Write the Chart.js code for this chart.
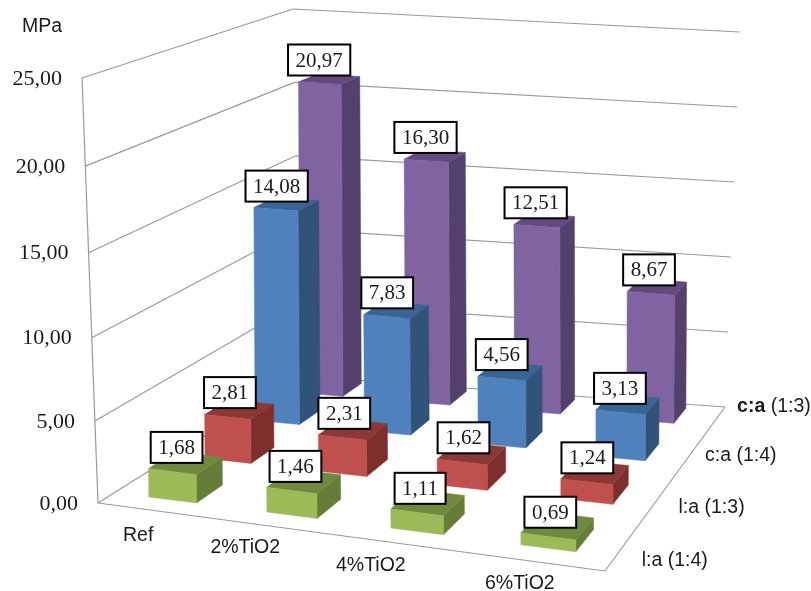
<!DOCTYPE html>
<html>
<head>
<meta charset="utf-8">
<style>
  html, body { margin: 0; padding: 0; background: #fff; }
  canvas { display: block; }
</style>
<script src="https://cdn.jsdelivr.net/npm/chart.js@4/dist/chart.umd.js"></script>
</head>
<body>
<canvas id="chart" width="811" height="591"></canvas>
<script>
// values
const categories = ["Ref", "2%TiO2", "4%TiO2", "6%TiO2"];
const seriesNames = ["l:a (1:4)", "l:a (1:3)", "c:a (1:4)", "c:a (1:3)"];
const la14 = [1.68, 1.46, 1.11, 0.69];
const la13 = [2.81, 2.31, 1.62, 1.24];
const ca14 = [14.08, 7.83, 4.56, 3.13];
const ca13 = [20.97, 16.30, 12.51, 8.67];

// front, side, top colours of each series
const shades = [
  ["#9BBB59", "#667D38", "#71893E"],
  ["#C0504D", "#7E2F2D", "#8C3836"],
  ["#4F81BD", "#31537A", "#386594"],
  ["#8064A2", "#54406C", "#64497F"]
];

// view of the 3D box: corners front-left, front-right, back-right, back-left
const floorCorners = [[98, 503], [605, 571], [725, 407], [300, 376]];
const roofCorners = [[82, 78], [613, 136], [740, 32], [293, 9]];
const barDepth = 0.46;
const barShift = 0.012;  // bars sit a little right of the slot centres
const barLean = 0.2;     // bars lean much less than the walls
const barWarp = 0.1;     // evens out the bar spacing along the front
const wallWarp = 0.047;  // gridlines get wider apart going up the front edge
const baseLift = [0, 4, 7, 5];  // tall bars stand a bit higher on the floor

function makeMap(p) {
  const [x0, y0] = p[0], [x1, y1] = p[1], [x2, y2] = p[2], [x3, y3] = p[3];
  const dx1 = x1 - x2, dx2 = x3 - x2, sx = x0 - x1 + x2 - x3;
  const dy1 = y1 - y2, dy2 = y3 - y2, sy = y0 - y1 + y2 - y3;
  const det = dx1 * dy2 - dx2 * dy1;
  const g = (sx * dy2 - dx2 * sy) / det;
  const h = (dx1 * sy - sx * dy1) / det;
  const a = x1 - x0 + g * x1, b = x3 - x0 + h * x3;
  const d = y1 - y0 + g * y1, e = y3 - y0 + h * y3;
  return (u, v) => {
    const w = g * u + h * v + 1;
    return [(a * u + b * v + x0) / w, (d * u + e * v + y0) / w];
  };
}
const floorMap = makeMap(floorCorners);
const roofMap = makeMap(roofCorners);

// u along the categories, v into the depth, t up the value axis (all 0..1)
function project(u, v, t) {
  const a = floorMap(u, v), b = roofMap(u, v);
  const k = t / (1 + wallWarp * (1 - t) * (1 - v));
  return [a[0] + (b[0] - a[0]) * k, a[1] + (b[1] - a[1]) * k];
}

function projectBar(u, v, t) {
  const w = u + barShift + barWarp * (u - 0.125) * (0.875 - u);
  const a = floorMap(w, v), b = roofMap(w, v);
  return [a[0] + (b[0] - a[0]) * t * barLean, a[1] + (b[1] - a[1]) * t];
}

function fillFace(ctx, pts, color) {
  ctx.beginPath();
  pts.forEach((p, i) => i ? ctx.lineTo(p[0], p[1]) : ctx.moveTo(p[0], p[1]));
  ctx.closePath();
  ctx.fillStyle = color;
  ctx.strokeStyle = color;
  ctx.lineWidth = 0.5;
  ctx.fill();
  ctx.stroke();
}

const fmt = v => v.toFixed(2).replace(".", ",");

class Bar3dController extends Chart.BarController {
  draw() {
    const ctx = this.chart.ctx;
    const meta = this._cachedMeta;
    const xs = meta.xScale, ys = meta.yScale;
    const depth = this.chart.scales.depth;
    const v = (depth.bottom - depth.getPixelForValue(this.index)) / depth.height;
    const dv = barDepth / categories.length / 2;
    const colors = shades[this.index];
    for (let i = meta.data.length - 1; i >= 0; i--) {
      const el = meta.data[i];
      const u0 = (el.x - el.width / 2 - xs.left) / xs.width;
      const u1 = (el.x + el.width / 2 - xs.left) / xs.width;
      const t = (ys.bottom - el.y) / ys.height;
      const v0 = v - dv, v1 = v + dv;
      const lift = baseLift[this.index] * Math.min(1, t * 4);
      const base = (uu, vv) => {
        const p = projectBar(uu, vv, 0);
        return [p[0], p[1] - lift];
      };
      fillFace(ctx, [base(u1, v0), base(u1, v1), projectBar(u1, v1, t), projectBar(u1, v0, t)], colors[1]);
      fillFace(ctx, [projectBar(u0, v0, t), projectBar(u1, v0, t), projectBar(u1, v1, t), projectBar(u0, v1, t)], colors[2]);
      fillFace(ctx, [base(u0, v0), base(u1, v0), projectBar(u1, v0, t), projectBar(u0, v0, t)], colors[0]);
    }
  }
}
Bar3dController.id = "bar3d";
Bar3dController.defaults = Chart.BarController.defaults;
Bar3dController.overrides = Chart.BarController.overrides;
Chart.register(Bar3dController);

const wallsPlugin = {
  id: "walls",
  beforeDatasetsDraw(chart) {
    const ctx = chart.ctx, ys = chart.scales.y;
    const line = (a, b) => {
      ctx.beginPath();
      ctx.moveTo(a[0], a[1]);
      ctx.lineTo(b[0], b[1]);
      ctx.stroke();
    };
    ctx.save();
    ctx.strokeStyle = "#9a9a9a";
    ctx.lineWidth = 1.2;
    ys.ticks.forEach(tick => {
      const t = (ys.bottom - ys.getPixelForValue(tick.value)) / ys.height;
      line(project(0, 0, t), project(0, 1, t));
      line(project(0, 1, t), project(1, 1, t));
    });
    line(project(0, 0, 0), project(0, 0, 1));
    line(project(0, 0, 0), project(1, 0, 0));
    line(project(1, 0, 0), project(1, 1, 0));
    ctx.restore();
  },
  afterDatasetsDraw(chart) {
    const ctx = chart.ctx, ys = chart.scales.y, xs = chart.scales.x, depth = chart.scales.depth;
    ctx.save();

    // value tick labels follow the slanted front edge
    ctx.font = '22px "Liberation Serif"';
    ctx.fillStyle = "#1a1a1a";
    ctx.textAlign = "right";
    ctx.textBaseline = "middle";
    ys.ticks.forEach(tick => {
      const t = (ys.bottom - ys.getPixelForValue(tick.value)) / ys.height;
      const p = project(0, 0, t);
      ctx.fillText(tick.label, p[0] - 20, p[1] + 1);
    });

    // category labels under the front edge
    ctx.font = '19.5px "Liberation Sans"';
    ctx.textAlign = "center";
    const catDx = [-13, -20, -20, -10];
    const catDy = [25, 22, 23, 23];
    categories.forEach((name, i) => {
      const u = (xs.getPixelForValue(i) - xs.left) / xs.width;
      const p = project(u, 0, 0);
      ctx.fillText(name, p[0] + catDx[i], p[1] + catDy[i]);
    });

    // series names beside the right floor edge
    ctx.textAlign = "left";
    const nameDx = [18, 21, 18, 24];
    const nameDy = [15, 8, -3, -17];
    seriesNames.forEach((name, j) => {
      const v = (depth.bottom - depth.getPixelForValue(j)) / depth.height;
      const p = project(1, v, 0);
      const x = p[0] + nameDx[j], y = p[1] + nameDy[j];
      if (j === 3) {
        const head = name.split(" ")[0];
        ctx.font = 'bold 19.5px "Liberation Sans"';
        ctx.fillText(head, x, y);
        const w = ctx.measureText(head).width;
        ctx.font = '19.5px "Liberation Sans"';
        ctx.fillText(name.slice(head.length), x + w, y);
      } else {
        ctx.fillText(name, x, y);
      }
    });

    ctx.fillText("MPa", 22, 27);

    // value boxes sit above each bar's top face
    ctx.font = '21px "Liberation Serif"';
    ctx.textAlign = "center";
    const dv = barDepth / categories.length / 2;
    chart.data.datasets.forEach((ds, j) => {
      const meta = chart.getDatasetMeta(j);
      const v = (depth.bottom - depth.getPixelForValue(j)) / depth.height;
      meta.data.forEach((el, i) => {
        const u = (el.x - xs.left) / xs.width;
        const t = (ys.bottom - el.y) / ys.height;
        const p = projectBar(u, v + dv * 0.3, t);
        const text = fmt(ds.data[i]);
        const w = ctx.measureText(text).width + 15;
        const x = p[0] - 13 + i, y = p[1] - 18 + (3 - j) * 1.7 + i;
        ctx.fillStyle = "#fff";
        ctx.strokeStyle = "#000";
        ctx.lineWidth = 2;
        ctx.fillRect(x - w / 2, y - 15.5, w, 31);
        ctx.strokeRect(x - w / 2, y - 15.5, w, 31);
        ctx.fillStyle = "#1a1a1a";
        ctx.fillText(text, x, y + 1);
      });
    });
    ctx.restore();
  }
};

new Chart(document.getElementById("chart"), {
  type: "bar3d",
  data: {
    labels: categories,
    datasets: [
      { label: seriesNames[0], data: la14, clip: false },
      { label: seriesNames[1], data: la13, clip: false },
      { label: seriesNames[2], data: ca14, clip: false },
      { label: seriesNames[3], data: ca13, clip: false }
    ]
  },
  options: {
    responsive: false,
    animation: false,
    grouped: false,
    categoryPercentage: 0.41,
    barPercentage: 1,
    layout: { padding: { left: 98, right: 206, top: 78, bottom: 88 } },
    plugins: { legend: { display: false }, tooltip: { enabled: false } },
    scales: {
      x: { type: "category", display: false, offset: true },
      y: {
        type: "linear",
        display: false,
        min: 0,
        max: 25,
        ticks: { stepSize: 5, callback: v => fmt(v) }
      },
      depth: { type: "category", axis: "y", display: false, labels: seriesNames, reverse: true, offset: true }
    }
  },
  plugins: [wallsPlugin]
});
</script>
</body>
</html>
